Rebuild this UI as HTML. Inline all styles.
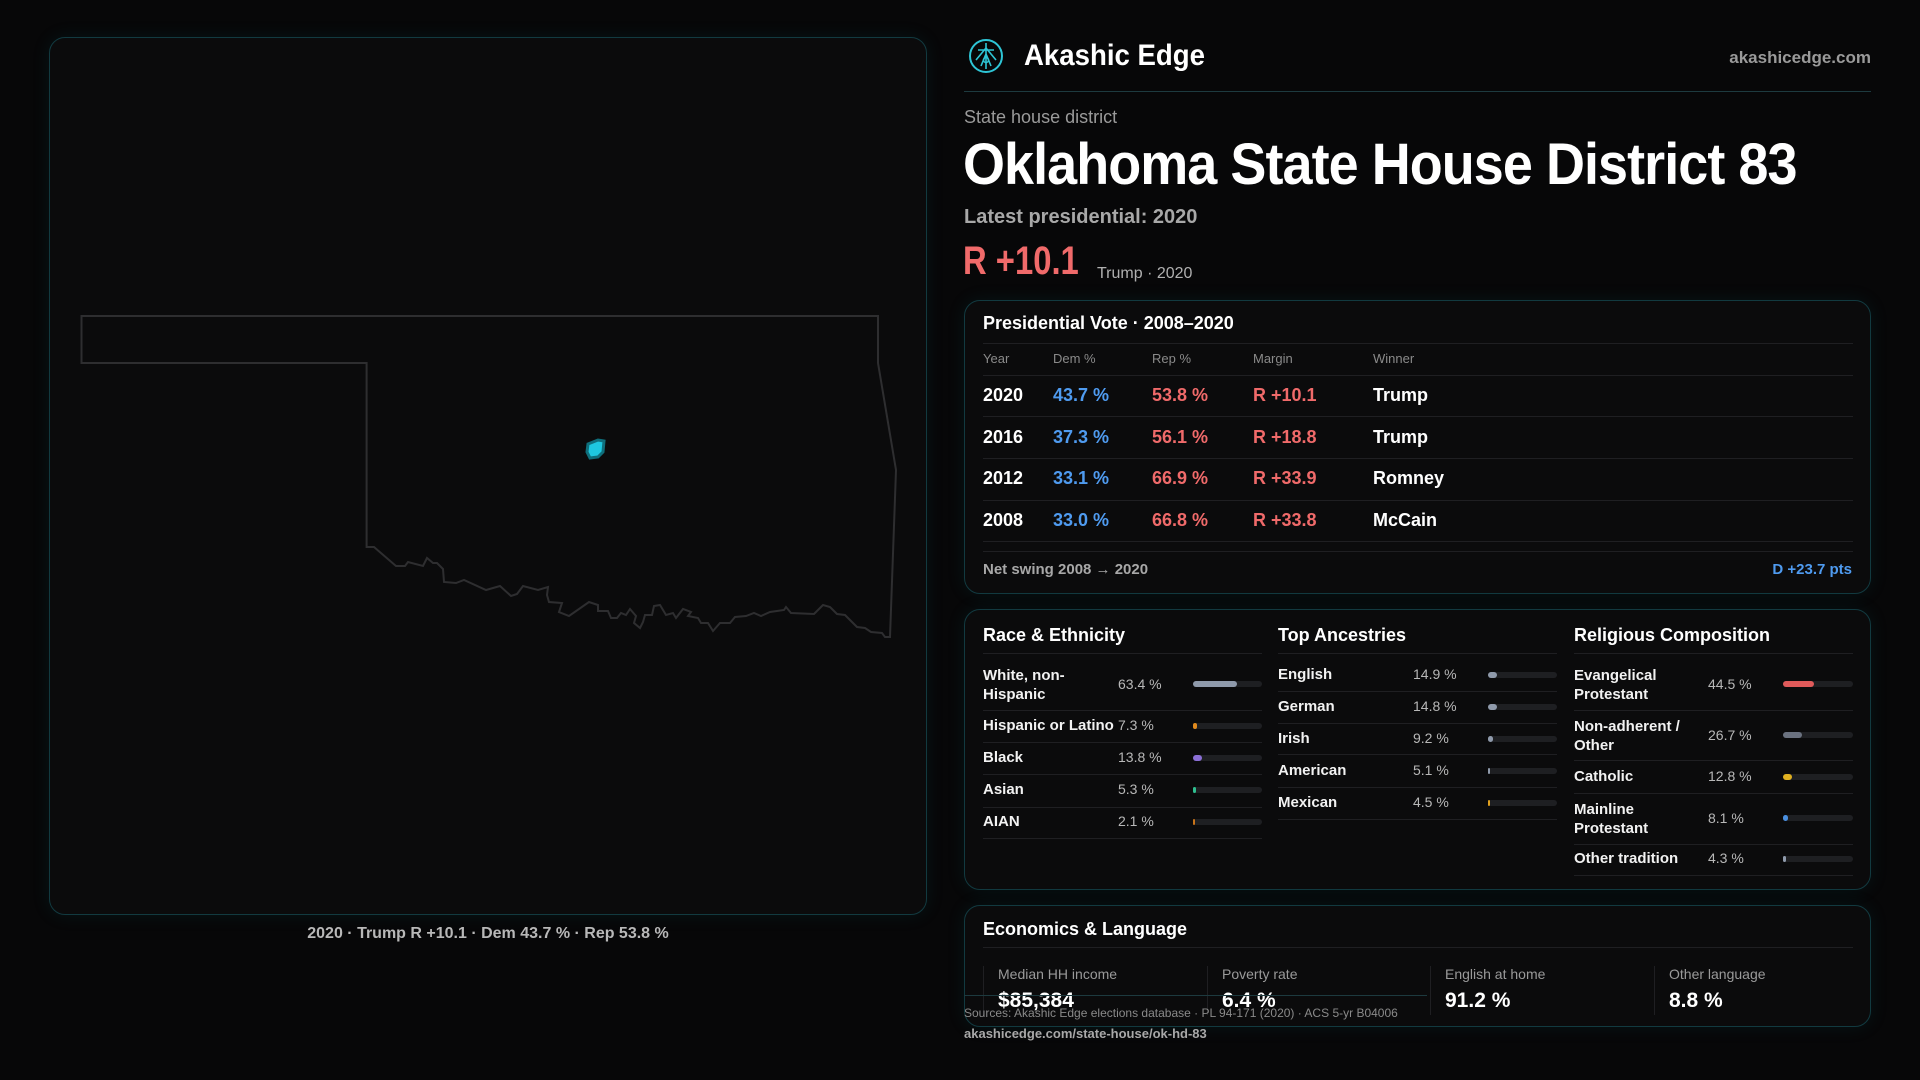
<!DOCTYPE html>
<html><head><meta charset="utf-8"><style>
*{margin:0;padding:0;box-sizing:border-box}
body{width:1920px;height:1080px;background:#070708;font-family:"Liberation Sans",sans-serif;color:#fff;position:relative;overflow:hidden}
.a{position:absolute;white-space:nowrap}
.panel{position:absolute;border:1px solid #123a40;border-radius:16px;background:#0b0b0c;box-shadow:0 0 18px rgba(20,120,130,0.12)}
.c{transform-origin:left center}
.row{position:absolute;left:983px;width:870px;height:1px;background:#1f1f22}
.blue{color:#4f9bf0}.red{color:#f06a6a}
.bar{position:absolute;height:6px;border-radius:3px;background:#1e1f22}
.bar i{position:absolute;left:0;top:0;height:6px;border-radius:3px}
.sep{position:absolute;height:1px;background:#1f1f22}
.lab{font-size:15px;font-weight:bold;color:#f2f2f2}
.pct{font-size:14px;color:#b8b8b8}
</style></head><body>

<div class="panel" style="left:49px;top:37px;width:878px;height:878px;background:#0b0b0c"></div>
<svg class="a" style="left:0;top:0" width="1920" height="1080">
<path d="M81.5,316 L878,316 L878,363 L896,470 L890,637 L885,637 L882,633 L871,632 L865,628 L857,627 L845,615 L837,614 L830,607 L823,605 L814,614 L791,613 L786,607 L784,610 L770,612 L761,616 L754,613 L746,616 L735,617 L730,623 L720,623 L713,631 L708,623 L701,623 L698,618 L688,616 L691,612 L683,609 L676,618 L673,613 L666,615 L660,605 L654,606 L652,615 L645,615 L643,622 L640,628 L634,623 L636,616 L630,609 L626,615 L621,613 L617,618 L611,618 L608,611 L598,611 L598,605 L589,602 L569,616 L559,612 L562,603 L549,602 L547,595 L548,587 L538,590 L523,586 L517,594 L511,596 L500,586 L486,590 L464,580 L456,583 L444,582 L443,569 L437,563 L433,563 L427,558 L423,566 L408,562 L405,566 L396,566 L374,547 L366.6,547 L366.6,363 L81.5,363 Z" fill="none" stroke="#2e2e30" stroke-width="2"/>
<path d="M588,444 L598,440 L604,441 L603,452 L598,457 L590,458 L587,452 Z" fill="#1ec8e0" stroke="#0f6f7c" stroke-width="3"/>
</svg>
<div class="a" style="left:0;width:976px;top:925px;text-align:center;font-size:16px;font-weight:bold;color:#b8b8b8">2020 · Trump R +10.1 · Dem 43.7 % · Rep 53.8 %</div>

<!-- header -->
<svg class="a" style="left:968px;top:38px" width="36" height="36" viewBox="0 0 36 36">
<circle cx="18" cy="18" r="16" fill="none" stroke="#2ec5d6" stroke-width="2"/>
<path d="M18 5 L18 31 M10 12 L26 12 M13 28 L18 16 L23 28 M8 22 L18 10 L28 22" fill="none" stroke="#2ec5d6" stroke-width="1.6"/>
<circle cx="18" cy="22" r="2.5" fill="none" stroke="#2ec5d6" stroke-width="1.5"/>
</svg>
<div class="a c" style="left:1024px;top:39px;font-size:30px;font-weight:bold;transform:scaleX(0.92)">Akashic Edge</div>
<div class="a" style="right:49px;top:48px;font-size:17px;font-weight:bold;color:#9a9a9a">akashicedge.com</div>
<div class="a" style="left:964px;top:91px;width:907px;height:1px;background:#1d3a3f"></div>
<div class="a" style="left:964px;top:107px;font-size:18px;color:#9a9a9a">State house district</div>
<div class="a c" style="left:963px;top:131px;font-size:58px;font-weight:bold;letter-spacing:-1px;transform:scaleX(0.93)">Oklahoma State House District 83</div>
<div class="a" style="left:964px;top:206px;font-size:20px;font-weight:bold;color:#a8a8a8">Latest presidential: 2020</div>
<div class="a c" style="left:963px;top:239px;font-size:40px;font-weight:bold;color:#f06a6a;transform:scaleX(0.82)">R +10.1</div>
<div class="a" style="left:1097px;top:265px;font-size:16px;color:#b0b0b0">Trump · 2020</div>

<!-- presidential card -->
<div class="panel" style="left:964px;top:300px;width:907px;height:294px"></div>
<div class="a" style="left:983px;top:313px;font-size:18px;font-weight:bold">Presidential Vote · 2008–2020</div>
<div class="row" style="top:343px"></div>
<div class="a" style="left:983px;top:351px;font-size:13px;color:#8a8a8a">Year</div>
<div class="a" style="left:1053px;top:351px;font-size:13px;color:#8a8a8a">Dem %</div>
<div class="a" style="left:1152px;top:351px;font-size:13px;color:#8a8a8a">Rep %</div>
<div class="a" style="left:1253px;top:351px;font-size:13px;color:#8a8a8a">Margin</div>
<div class="a" style="left:1373px;top:351px;font-size:13px;color:#8a8a8a">Winner</div>
<div class="row" style="top:375px"></div>
<div style="position:absolute;left:0;top:1px;font-size:18px;font-weight:bold">
<div class="a" style="left:983px;top:384px">2020</div><div class="a blue" style="left:1053px;top:384px">43.7 %</div><div class="a red" style="left:1152px;top:384px">53.8 %</div><div class="a red" style="left:1253px;top:384px">R +10.1</div><div class="a" style="left:1373px;top:384px">Trump</div>
<div class="a" style="left:983px;top:426px">2016</div><div class="a blue" style="left:1053px;top:426px">37.3 %</div><div class="a red" style="left:1152px;top:426px">56.1 %</div><div class="a red" style="left:1253px;top:426px">R +18.8</div><div class="a" style="left:1373px;top:426px">Trump</div>
<div class="a" style="left:983px;top:467px">2012</div><div class="a blue" style="left:1053px;top:467px">33.1 %</div><div class="a red" style="left:1152px;top:467px">66.9 %</div><div class="a red" style="left:1253px;top:467px">R +33.9</div><div class="a" style="left:1373px;top:467px">Romney</div>
<div class="a" style="left:983px;top:509px">2008</div><div class="a blue" style="left:1053px;top:509px">33.0 %</div><div class="a red" style="left:1152px;top:509px">66.8 %</div><div class="a red" style="left:1253px;top:509px">R +33.8</div><div class="a" style="left:1373px;top:509px">McCain</div>
</div>
<div class="row" style="top:416px"></div><div class="row" style="top:458px"></div><div class="row" style="top:500px"></div><div class="row" style="top:541px"></div><div class="row" style="top:551px"></div>
<div class="a" style="left:983px;top:561px;font-size:15px;font-weight:bold;color:#a8a8a8">Net swing 2008 → 2020</div>
<div class="a" style="right:68px;top:561px;font-size:15px;font-weight:bold;color:#4f9bf0">D +23.7 pts</div>

<!-- demographics card -->
<div class="panel" style="left:964px;top:609px;width:907px;height:281px"></div>
<div class="a" style="left:983px;top:625px;font-size:18px;font-weight:bold">Race &amp; Ethnicity</div>
<div class="a" style="left:1278px;top:625px;font-size:18px;font-weight:bold">Top Ancestries</div>
<div class="a" style="left:1574px;top:625px;font-size:18px;font-weight:bold">Religious Composition</div>
<div class="sep" style="left:983px;width:279px;top:653px"></div>
<div class="sep" style="left:1278px;width:279px;top:653px"></div>
<div class="sep" style="left:1574px;width:279px;top:653px"></div>

<!-- race -->
<div class="a lab" style="left:983px;top:666px;line-height:19px">White, non-<br>Hispanic</div><div class="a pct" style="left:1118px;top:676px">63.4 %</div><div class="bar" style="left:1193px;width:69px;top:681px"><i style="width:44px;background:#8f9aab"></i></div>
<div class="sep" style="left:983px;width:279px;top:710px"></div>
<div class="a lab" style="left:983px;top:717px">Hispanic or Latino</div><div class="a pct" style="left:1118px;top:717px">7.3 %</div><div class="bar" style="left:1193px;width:69px;top:723px"><i style="width:4px;background:#e08a1e"></i></div>
<div class="sep" style="left:983px;width:279px;top:742px"></div>
<div class="a lab" style="left:983px;top:749px">Black</div><div class="a pct" style="left:1118px;top:749px">13.8 %</div><div class="bar" style="left:1193px;width:69px;top:755px"><i style="width:9px;background:#8b6fd6"></i></div>
<div class="sep" style="left:983px;width:279px;top:774px"></div>
<div class="a lab" style="left:983px;top:781px">Asian</div><div class="a pct" style="left:1118px;top:781px">5.3 %</div><div class="bar" style="left:1193px;width:69px;top:787px"><i style="width:3px;background:#2fbf8f"></i></div>
<div class="sep" style="left:983px;width:279px;top:807px"></div>
<div class="a lab" style="left:983px;top:813px">AIAN</div><div class="a pct" style="left:1118px;top:813px">2.1 %</div><div class="bar" style="left:1193px;width:69px;top:819px"><i style="width:2px;background:#c8741a"></i></div>
<div class="sep" style="left:983px;width:279px;top:838px"></div>

<!-- ancestries -->
<div class="a lab" style="left:1278px;top:666px">English</div><div class="a pct" style="left:1413px;top:666px">14.9 %</div><div class="bar" style="left:1488px;width:69px;top:672px"><i style="width:9px;background:#8f9aab"></i></div>
<div class="sep" style="left:1278px;width:279px;top:691px"></div>
<div class="a lab" style="left:1278px;top:698px">German</div><div class="a pct" style="left:1413px;top:698px">14.8 %</div><div class="bar" style="left:1488px;width:69px;top:704px"><i style="width:9px;background:#8f9aab"></i></div>
<div class="sep" style="left:1278px;width:279px;top:723px"></div>
<div class="a lab" style="left:1278px;top:730px">Irish</div><div class="a pct" style="left:1413px;top:730px">9.2 %</div><div class="bar" style="left:1488px;width:69px;top:736px"><i style="width:5px;background:#8f9aab"></i></div>
<div class="sep" style="left:1278px;width:279px;top:754px"></div>
<div class="a lab" style="left:1278px;top:762px">American</div><div class="a pct" style="left:1413px;top:762px">5.1 %</div><div class="bar" style="left:1488px;width:69px;top:768px"><i style="width:2px;background:#8f9aab"></i></div>
<div class="sep" style="left:1278px;width:279px;top:787px"></div>
<div class="a lab" style="left:1278px;top:794px">Mexican</div><div class="a pct" style="left:1413px;top:794px">4.5 %</div><div class="bar" style="left:1488px;width:69px;top:800px"><i style="width:2px;background:#e0a01e"></i></div>
<div class="sep" style="left:1278px;width:279px;top:819px"></div>

<!-- religion -->
<div class="a lab" style="left:1574px;top:666px;line-height:19px">Evangelical<br>Protestant</div><div class="a pct" style="left:1708px;top:676px">44.5 %</div><div class="bar" style="left:1783px;width:70px;top:681px"><i style="width:31px;background:#e05a5a"></i></div>
<div class="sep" style="left:1574px;width:279px;top:710px"></div>
<div class="a lab" style="left:1574px;top:717px;line-height:19px">Non-adherent /<br>Other</div><div class="a pct" style="left:1708px;top:727px">26.7 %</div><div class="bar" style="left:1783px;width:70px;top:732px"><i style="width:19px;background:#6b7280"></i></div>
<div class="sep" style="left:1574px;width:279px;top:760px"></div>
<div class="a lab" style="left:1574px;top:768px">Catholic</div><div class="a pct" style="left:1708px;top:768px">12.8 %</div><div class="bar" style="left:1783px;width:70px;top:774px"><i style="width:9px;background:#e0b020"></i></div>
<div class="sep" style="left:1574px;width:279px;top:793px"></div>
<div class="a lab" style="left:1574px;top:800px;line-height:19px">Mainline<br>Protestant</div><div class="a pct" style="left:1708px;top:810px">8.1 %</div><div class="bar" style="left:1783px;width:70px;top:815px"><i style="width:5px;background:#4a8fe0"></i></div>
<div class="sep" style="left:1574px;width:279px;top:844px"></div>
<div class="a lab" style="left:1574px;top:850px">Other tradition</div><div class="a pct" style="left:1708px;top:850px">4.3 %</div><div class="bar" style="left:1783px;width:70px;top:856px"><i style="width:3px;background:#8f9aab"></i></div>
<div class="sep" style="left:1574px;width:279px;top:875px"></div>

<!-- econ card -->
<div class="panel" style="left:964px;top:905px;width:907px;height:122px"></div>
<div class="a" style="left:983px;top:919px;font-size:18px;font-weight:bold">Economics &amp; Language</div>
<div class="sep" style="left:983px;width:870px;top:947px"></div>
<div class="a" style="left:983px;top:966px;width:1px;height:49px;background:#1f1f22"></div>
<div class="a" style="left:1207px;top:966px;width:1px;height:49px;background:#1f1f22"></div>
<div class="a" style="left:1430px;top:966px;width:1px;height:49px;background:#1f1f22"></div>
<div class="a" style="left:1654px;top:966px;width:1px;height:49px;background:#1f1f22"></div>
<div class="a" style="left:998px;top:966px;font-size:14px;color:#9a9a9a">Median HH income</div>
<div class="a" style="left:1222px;top:966px;font-size:14px;color:#9a9a9a">Poverty rate</div>
<div class="a" style="left:1445px;top:966px;font-size:14px;color:#9a9a9a">English at home</div>
<div class="a" style="left:1669px;top:966px;font-size:14px;color:#9a9a9a">Other language</div>
<div class="a" style="left:998px;top:989px;font-size:21px;font-weight:bold">$85,384</div>
<div class="a" style="left:1222px;top:989px;font-size:21px;font-weight:bold">6.4 %</div>
<div class="a" style="left:1445px;top:989px;font-size:21px;font-weight:bold">91.2 %</div>
<div class="a" style="left:1669px;top:989px;font-size:21px;font-weight:bold">8.8 %</div>
<div class="a" style="left:964px;top:995px;width:463px;height:1px;background:#1d3a3f"></div>
<div class="a" style="left:964px;top:1006px;font-size:12px;color:#8a8a8a">Sources: Akashic Edge elections database · PL 94-171 (2020) · ACS 5-yr B04006</div>
<div class="a" style="left:964px;top:1026px;font-size:13px;font-weight:bold;color:#a8a8a8">akashicedge.com/state-house/ok-hd-83</div>
</body></html>
